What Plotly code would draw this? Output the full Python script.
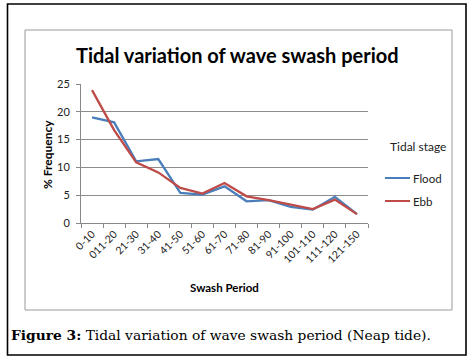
import plotly.graph_objects as go

categories = ["0-10", "011-20", "21-30", "31-40", "41-50", "51-60", "61-70",
              "71-80", "81-90", "91-100", "101-110", "111-120", "121-150"]
flood = [19.0, 18.1, 11.1, 11.5, 5.4, 5.1, 6.6, 3.9, 4.1, 2.9, 2.4, 4.7, 1.6]
ebb = [23.9, 16.7, 10.9, 9.1, 6.3, 5.3, 7.2, 4.8, 4.1, 3.3, 2.5, 4.2, 1.6]
y_ticks = [0, 5, 10, 15, 20, 25]
series_names = ["Flood", "Ebb"]
series_colors = ["#4a7ebb", "#be4b48"]

W, H = 475, 363
L, R, T, B = 81, 368, 84, 223

def px_x(p):
    return (p - L) / (R - L)

def px_y(p):
    return (B - p) / (B - T)

CAL = "Lato, 'Open Sans', sans-serif"
SERIF = "'DejaVu Serif', 'Liberation Serif', serif"

fig = go.Figure()
for name, vals, col in zip(series_names, [flood, ebb], series_colors):
    fig.add_trace(go.Scatter(x=categories, y=vals, mode="lines", name=name,
                             line=dict(color=col, width=2.3), showlegend=False))

fig.update_layout(
    width=W, height=H,
    margin=dict(l=L, r=W - R, t=T, b=H - B, pad=0),
    paper_bgcolor="white", plot_bgcolor="white",
    xaxis=dict(type="category", range=[-0.5, len(categories) - 0.5],
               showgrid=False, showline=True, linecolor="#888", linewidth=1,
               ticks="outside", tickson="boundaries", ticklen=4, tickcolor="#888",
               tickangle=-45, tickfont=dict(family=CAL, size=10.5, color="#222")),
    yaxis=dict(range=[0, 25], tickvals=y_ticks, showgrid=True, gridcolor="#8c8c8c",
               gridwidth=1.2, showline=True, linecolor="#888", linewidth=1,
               ticks="outside", ticklen=4, tickcolor="#888", zeroline=False,
               ticklabelstandoff=4,
               tickfont=dict(family=CAL, size=11, color="#222")),
    font=dict(family=CAL),
)

annotations = [
    dict(text="<b>Tidal variation of wave swash period</b>", x=px_x(237), y=px_y(55),
         font=dict(family=CAL, size=20, color="black")),
    dict(text="<b>% Frequency</b>", x=px_x(47), y=px_y(155), textangle=-90,
         font=dict(family=CAL, size=12, color="black")),
    dict(text="<b>Swash Period</b>", x=px_x(224), y=px_y(287),
         font=dict(family=CAL, size=11.5, color="black")),
    dict(text="Tidal stage", x=px_x(388), y=px_y(146), xanchor="left",
         font=dict(family=CAL, size=12, color="#222")),
    dict(text="<b>Figure 3:</b> Tidal variation of wave swash period (Neap tide).",
         x=px_x(9), y=px_y(335), xanchor="left",
         font=dict(family=SERIF, size=13.8, color="black")),
]
# manual legend
legend_y = [178, 201]
for name, col, ly in zip(series_names, series_colors, legend_y):
    fig.add_shape(type="line", xref="paper", yref="paper",
                  x0=px_x(385), x1=px_x(410), y0=px_y(ly), y1=px_y(ly),
                  line=dict(color=col, width=2))
    annotations.append(dict(text=name, x=px_x(411), y=px_y(ly), xanchor="left",
                            font=dict(family=CAL, size=11.5, color="#222")))

for a in annotations:
    a.update(xref="paper", yref="paper", showarrow=False)
    if "xanchor" not in a:
        a["xanchor"] = "center"
    a["yanchor"] = "middle"
fig.update_layout(annotations=annotations)

fig.add_shape(type="rect", xref="paper", yref="paper",
              x0=px_x(25), x1=px_x(452), y0=px_y(30), y1=px_y(310),
              line=dict(color="#9a9a9a", width=1))
fig.add_shape(type="rect", xref="paper", yref="paper",
              x0=px_x(7.5), x1=px_x(466), y0=px_y(4), y1=px_y(355),
              line=dict(color="black", width=1.6))

fig.write_html("out.html", config={"displayModeBar": False},
               post_script="document.body.style.margin='0';document.body.style.overflow='hidden';")
